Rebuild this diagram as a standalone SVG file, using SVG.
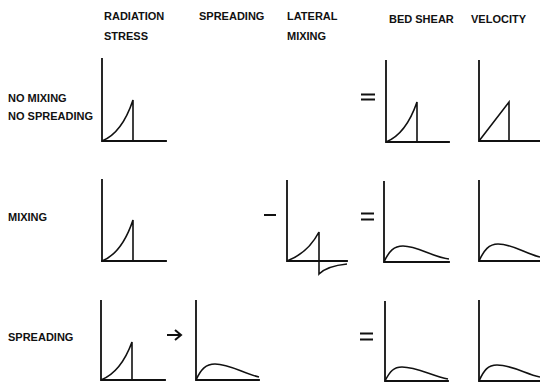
<svg xmlns="http://www.w3.org/2000/svg" width="540" height="384" viewBox="0 0 540 384">
<style>
.t{font-family:"Liberation Sans",Arial,sans-serif;font-weight:bold;font-size:11px;fill:#111}
.ax{stroke:#111;stroke-width:1.8;fill:none;stroke-linecap:square}
.cv{stroke:#111;stroke-width:1.6;fill:none;stroke-linejoin:miter}
.op{stroke:#111;stroke-width:2;fill:none}
</style>
<rect width="540" height="384" fill="#fff"/>
<g id="headers">
<text class="t" x="104" y="20">RADIATION</text>
<text class="t" x="104" y="40">STRESS</text>
<text class="t" x="199" y="20">SPREADING</text>
<text class="t" x="287" y="20">LATERAL</text>
<text class="t" x="287" y="40">MIXING</text>
<text class="t" x="389" y="23">BED SHEAR</text>
<text class="t" x="471" y="23">VELOCITY</text>
</g>
<g id="row-labels">
<text class="t" x="8" y="102">NO MIXING</text>
<text class="t" x="8" y="120">NO SPREADING</text>
<text class="t" x="8" y="221">MIXING</text>
<text class="t" x="8" y="341">SPREADING</text>
</g>
<g id="r1-radiation">
<path class="ax" d="M102,59 V141 H166"/>
<path class="cv" d="M102,141 Q122,133 133,100 V141"/>
</g>
<g id="r1-bedshear">
<path class="ax" d="M386,61 V142 H449"/>
<path class="cv" d="M386,142 Q406,134 417,102 V142"/>
</g>
<g id="r1-velocity">
<path class="ax" d="M479,61 V141 H540"/>
<path class="cv" d="M479,141 L509,102 V141"/>
</g>
<g id="r2-radiation">
<path class="ax" d="M102,180 V261"/>
<path class="ax" d="M102,261 H166" stroke="#777" stroke-width="1.2"/>
<path class="cv" d="M102,261 Q122,253 133,220 V261"/>
</g>
<g id="r2-lateral">
<path class="ax" d="M287,181 V261 H347"/>
<path class="cv" d="M287,261 Q308,253 319,232 V274 Q327,266 347,264"/>
</g>
<g id="r2-bedshear">
<path class="ax" d="M384,182 V262 H449"/>
<path class="cv" d="M384,262 C389,251 394,246 403,246 C418,246 432,257 449,259"/>
</g>
<g id="r2-velocity">
<path class="ax" d="M479,181 V261 H540"/>
<path class="cv" d="M479,261 C484,250 489,244 498,244 C513,244 526,254 540,257"/>
</g>
<g id="r3-radiation">
<path class="ax" d="M101,301 V380 H165"/>
<path class="cv" d="M101,380 Q121,372 132,342 V380"/>
</g>
<g id="r3-spreading">
<path class="ax" d="M196,301 V380 H259"/>
<path class="cv" d="M196,380 C201,369 206,364 215,364 C230,364 244,374 259,377"/>
</g>
<g id="r3-bedshear">
<path class="ax" d="M385,302 V381 H448"/>
<path class="cv" d="M385,381 C390,371 394,367 402,367 C417,367 432,376 448,379"/>
</g>
<g id="r3-velocity">
<path class="ax" d="M479,301 V381 H540"/>
<path class="cv" d="M479,381 C484,370 488,365 497,365 C512,365 526,374 540,377"/>
</g>
<g id="connectors">
<path class="op" d="M361,94.5 H375 M361,99.5 H375"/>
<path class="op" d="M264,215 H276"/>
<path class="op" d="M361,213.5 H374 M361,219.5 H374"/>
<path class="op" d="M360,333.5 H373 M360,339.5 H373"/>
<path class="op" d="M167,335 H180 M175,330 L181,335 L175,340" stroke-width="1.8"/>
</g>
</svg>
